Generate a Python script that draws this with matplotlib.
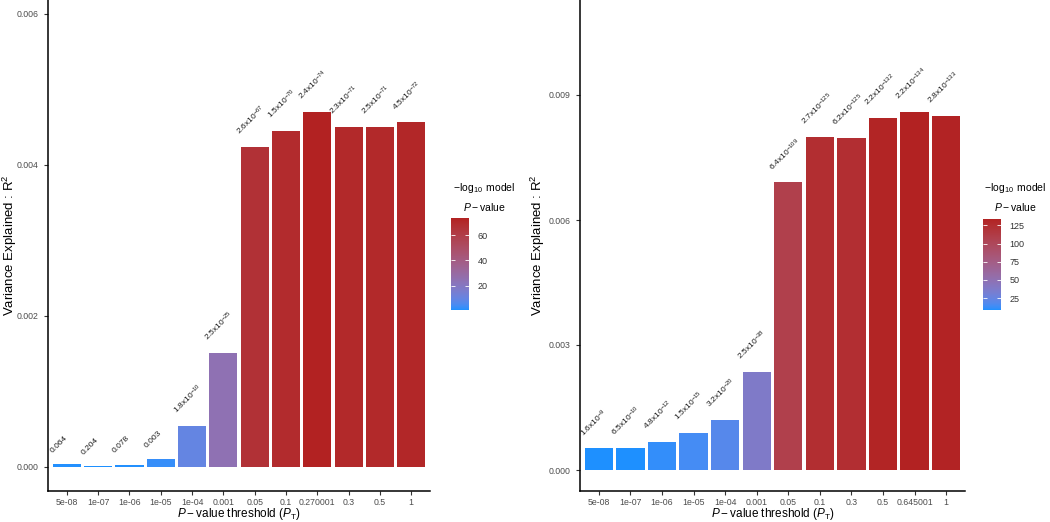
import numpy as np
import matplotlib
matplotlib.use("Agg")
import matplotlib.pyplot as plt
from matplotlib.colors import ListedColormap, Normalize
from matplotlib.cm import ScalarMappable

plt.rcParams['font.family'] = ['Liberation Sans', 'DejaVu Sans']
plt.rcParams['mathtext.fontset'] = 'custom'
plt.rcParams['mathtext.rm'] = 'Liberation Sans'
plt.rcParams['mathtext.it'] = 'Liberation Sans:italic'
plt.rcParams['mathtext.bf'] = 'Liberation Sans:bold'

# panel izquierdo
thresholds_left = ["5e-08", "1e-07", "1e-06", "1e-05", "1e-04", "0.001",
                   "0.05", "0.1", "0.270001", "0.3", "0.5", "1"]
r2_left = [0.00004, 0.00001, 0.00003, 0.0001, 0.00054, 0.00151,
           0.00424, 0.00445, 0.0047, 0.0045, 0.0045, 0.00456]
p_left = [0.064, 0.204, 0.078, 0.003, 1.8e-10, 2.5e-25,
          2.6e-67, 1.5e-70, 2.4e-74, 2.3e-71, 2.5e-71, 4.5e-72]

# panel derecho
thresholds_right = ["5e-08", "1e-07", "1e-06", "1e-05", "1e-04", "0.001",
                    "0.05", "0.1", "0.3", "0.5", "0.645001", "1"]
r2_right = [0.00052, 0.00054, 0.00068, 0.0009, 0.0012, 0.00236,
            0.0069, 0.008, 0.00797, 0.00845, 0.00859, 0.0085]
p_right = [1.6e-9, 6.5e-10, 4.8e-12, 1.5e-15, 3.2e-20, 2.5e-38,
           6.4e-109, 2.7e-125, 6.2e-125, 2.2e-132, 2.2e-134, 2.8e-133]


# gradiente dodgerblue -> firebrick interpolado en CIELAB (como ggplot)
WHITE = np.array([0.95047, 1.0, 1.08883])
M = np.array([[0.4124, 0.3576, 0.1805],
              [0.2126, 0.7152, 0.0722],
              [0.0193, 0.1192, 0.9505]])


def rgb_to_lab(rgb):
    c = np.asarray(rgb, float)
    lin = np.where(c <= 0.04045, c / 12.92, ((c + 0.055) / 1.055) ** 2.4)
    xyz = M @ lin / WHITE
    f = np.where(xyz > 0.008856, np.cbrt(xyz), 7.787 * xyz + 16 / 116)
    return np.array([116 * f[1] - 16, 500 * (f[0] - f[1]), 200 * (f[1] - f[2])])


def lab_to_rgb(lab):
    L, a, b = lab
    fy = (L + 16) / 116
    fx = fy + a / 500
    fz = fy - b / 200
    f = np.array([fx, fy, fz])
    xyz = np.where(f ** 3 > 0.008856, f ** 3, (f - 16 / 116) / 7.787) * WHITE
    lin = np.linalg.solve(M, xyz)
    lin = np.clip(lin, 0, 1)
    c = np.where(lin <= 0.0031308, 12.92 * lin, 1.055 * lin ** (1 / 2.4) - 0.055)
    return np.clip(c, 0, 1)


lab_lo = rgb_to_lab([30 / 255, 144 / 255, 255 / 255])
lab_hi = rgb_to_lab([178 / 255, 34 / 255, 34 / 255])
cmap = ListedColormap([lab_to_rgb(lab_lo + t * (lab_hi - lab_lo))
                       for t in np.linspace(0, 1, 256)])


def p_label(p):
    if p >= 0.001:
        return f"{p:g}"
    mant, exp = f"{p:.1e}".split("e")
    return r"$\mathregular{" + mant + "x10^{" + str(int(exp)) + "}}$"


def draw_panel(fig, ax_rect, cax_rect, title_xy, ylabel_x, thresholds, r2,
               pvals, ylim, yticks, cticks):
    ax = fig.add_axes(ax_rect)
    logp = -np.log10(pvals)
    norm = Normalize(logp.min(), logp.max())
    x = np.arange(len(thresholds))
    ax.bar(x, r2, width=0.9, color=cmap(norm(logp)), edgecolor='none')
    for i, (v, p) in enumerate(zip(r2, pvals)):
        ax.annotate(p_label(p), xy=(i - 0.42, v), xytext=(0, 7),
                    textcoords='offset points', rotation=45,
                    rotation_mode='anchor', ha='left', va='bottom',
                    fontsize=6, color='#1a1a1a')
    ax.set_xlim(-0.6, len(thresholds) - 0.4)
    ax.set_ylim(*ylim)
    ax.set_xticks(x)
    ax.set_xticklabels(thresholds)
    ax.set_yticks(yticks)
    ax.set_yticklabels([f"{t:.3f}" for t in yticks])
    ax.tick_params(labelsize=6.3, labelcolor='#4D4D4D', length=3,
                   color='#333333', width=0.8)
    ax.tick_params(axis='x', pad=2)
    ax.tick_params(axis='y', pad=4)
    for s in ['top', 'right']:
        ax.spines[s].set_visible(False)
    for s in ['left', 'bottom']:
        ax.spines[s].set_linewidth(1.1)
    ax.set_xlabel(r"$P-$value threshold ($P_{\mathrm{T}}$)", fontsize=8.5)
    ax.xaxis.set_label_coords(0.5, -0.031)
    ax.set_ylabel(r"Variance Explained : R$^2$", fontsize=9.5)
    ax.yaxis.set_label_coords(ylabel_x, 0.5)

    cax = fig.add_axes(cax_rect)
    cb = fig.colorbar(ScalarMappable(norm=norm, cmap=cmap), cax=cax)
    cb.outline.set_visible(False)
    cb.set_ticks(cticks)
    cax.tick_params(direction='in', length=3, color='white', width=0.6,
                    left=True, right=True, labelsize=6.5,
                    labelcolor='#333333', pad=6)
    fig.text(title_xy[0], title_xy[1], r"$-\log_{10}$ model", ha='center',
             va='center', fontsize=7.5)
    fig.text(title_xy[0], title_xy[1] - 0.037, r"$P-$value", ha='center',
             va='center', fontsize=7.5)


fig = plt.figure(figsize=(10.5, 5.22), dpi=100)
W, H = 1050, 522

draw_panel(fig, [48 / W, 1 - 491 / H, 382 / W, 491 / H],
           [451 / W, 1 - 310 / H, 18 / W, 92 / H],
           (484 / W, 1 - 188 / H), -0.075,
           thresholds_left, r2_left, p_left,
           (-0.00032, 0.00618), [0, 0.002, 0.004, 0.006], [20, 40, 60])

draw_panel(fig, [580 / W, 1 - 491 / H, 385 / W, 491 / H],
           [983 / W, 1 - 310 / H, 18 / W, 91 / H],
           (1015 / W, 1 - 188 / H), -0.085,
           thresholds_right, r2_right, p_right,
           (-0.000504, 0.01128), [0, 0.003, 0.006, 0.009],
           [25, 50, 75, 100, 125])

fig.savefig("out.png", dpi=100)
